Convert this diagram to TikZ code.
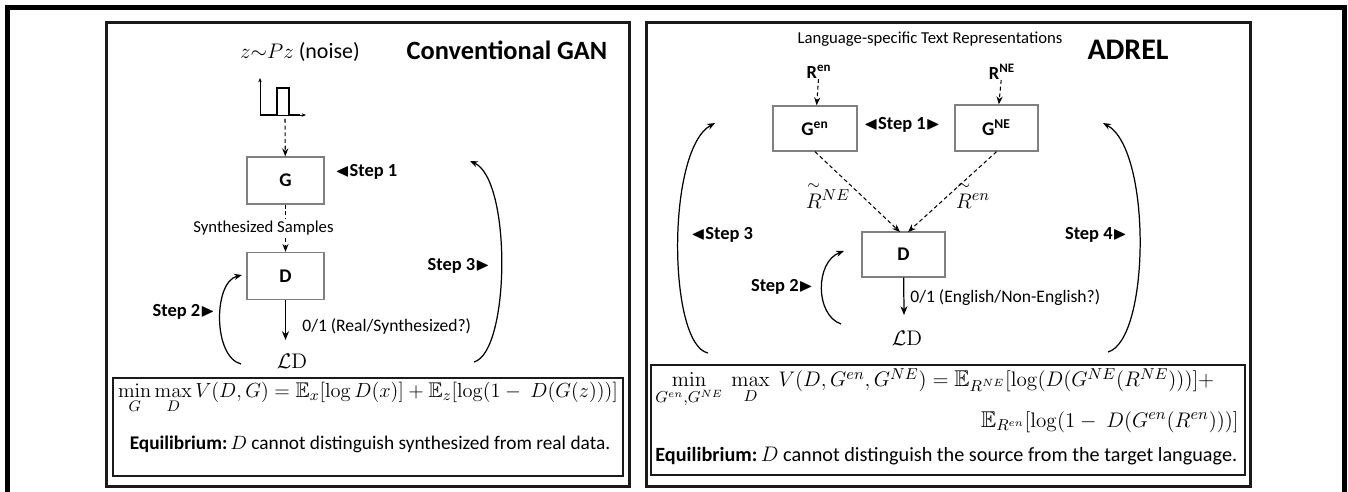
\documentclass[tikz,border=0pt]{standalone}
\usepackage[no-math]{fontspec}
\usepackage{amsmath}
\usepackage{amssymb}
\usepackage{graphicx}
\setmainfont{Carlito}
\usetikzlibrary{arrows.meta}
\definecolor{boxline}{HTML}{808080}
\definecolor{frameline}{HTML}{1A1A1A}
\tikzset{
  panel/.style={draw=frameline, line width=1.7pt},
  eqbox/.style={draw=frameline, line width=1.1pt},
  netbox/.style={draw=boxline, line width=0.8pt, minimum width=1.54cm, minimum height=0.94cm,
                 inner sep=0pt, font=\bfseries\fontsize{11}{13}\selectfont},
  steplabel/.style={font=\bfseries\fontsize{10.5}{12}\selectfont, inner sep=0pt},
  plainlabel/.style={font=\fontsize{10}{12}\selectfont, inner sep=0pt},
  paneltitle/.style={font=\bfseries\fontsize{15}{18}\selectfont, inner sep=0pt},
  mathlabel/.style={font=\fontsize{12.5}{15}\selectfont, inner sep=0pt},
  flow/.style={-{Stealth[length=4.5pt, width=3.5pt]}, line width=0.6pt, dash pattern=on 2.2pt off 1.6pt},
  decide/.style={-{Stealth[length=5pt, width=4pt]}, line width=0.7pt},
  stepcurve/.style={-{Stealth[length=4.5pt, width=3.5pt]}, line width=0.7pt},
}

\begin{document}
\begin{tikzpicture}[x=0.02cm, y=-0.02cm]
  \useasboundingbox (0,0) rectangle (1348,492);
  \draw[line width=2.6pt] (7.5,492) -- (7.5,7.5) -- (1344.5,7.5) -- (1344.5,492);
  \draw[panel] (106.5,22.5) rectangle (629.5,486.5);
  \draw[panel] (646.5,22.5) rectangle (1250,486.5);

  % conventional GAN
  \node[mathlabel] (noise) at (300,52) {$z{\sim}Pz$ (noise)};
  \node[paneltitle] (gantitle) at (507,50) {Conventional GAN};
  \draw[-{Stealth[length=2.5pt, width=2pt]}, line width=0.5pt] (260,115) -- (260,78);
  \draw[-{Stealth[length=2.5pt, width=2pt]}, line width=0.5pt] (260,115) -- (306,115);
  \draw[line width=0.9pt] (260,115) -- (277,115) -- (277,88) -- (289,88) -- (289,115) -- (300,115);
  \coordinate (pulse) at (285,119);
  \node[netbox] (G) at (285.5,180.5) {G};
  \node[steplabel, anchor=west] (ganstep1) at (335,172) {$\blacktriangleleft$Step 1};
  \node[netbox] (D) at (285.5,276) {D};
  \draw[flow] (pulse) -- (G);
  \draw[flow] (G) -- (D) node[midway, plainlabel, font=\fontsize{9.5}{11}\selectfont, fill=white, inner sep=1pt, xshift=-0.44cm] (synth) {Synthesized Samples};
  \coordinate (ganloss) at (285.5,340);
  \draw[decide] (D) -- (ganloss);
  \node[mathlabel, font=\fontsize{13}{15}\selectfont] (ganlossD) at (292,361) {$\mathcal{L}\mathrm{D}$};
  \node[plainlabel, anchor=west] (ganverdict) at (302,326) {0/1 (Real/Synthesized?)};
  \node[steplabel, anchor=east] (ganstep2) at (215,312) {Step 2$\blacktriangleright$};
  \draw[stepcurve] (241,364) .. controls (213,357) and (213,282) .. (242,275);
  \node[steplabel, anchor=east] (ganstep3) at (490,266) {Step 3$\blacktriangleright$};
  \draw[stepcurve] (474,362) .. controls (510,352) and (512,180) .. (470,161);
  \draw[eqbox] (113,378) rectangle (623,476);
  \node[mathlabel] (ganeq) at (368,398)
    {\resizebox{10cm}{!}{$\min\limits_{G}\max\limits_{D} V(D,G) = \mathbb{E}_x[\log D(x)] + \mathbb{E}_z[\log(1-\ D(G(z)))]$}};
  \node[plainlabel, font=\fontsize{11}{13}\selectfont] (ganeqil) at (370,444)
    {\textbf{Equilibrium:}$\,D$ cannot distinguish synthesized from real data.};

  % ADREL
  \node[plainlabel, font=\fontsize{9.5}{11}\selectfont] (reptitle) at (930,39) {Language-specific Text Representations};
  \node[paneltitle, font=\bfseries\fontsize{17}{20}\selectfont] (adreltitle) at (1128,50) {ADREL};
  \node[steplabel] (Ren) at (819,72) {R\textsuperscript{en}};
  \node[steplabel] (RNE) at (1002,72) {R\textsuperscript{NE}};
  \node[netbox, minimum width=1.68cm, minimum height=0.9cm] (Gen) at (815,128.5) {G\textsuperscript{en}};
  \node[netbox, minimum width=1.66cm, minimum height=0.92cm] (GNE) at (996.5,128) {G\textsuperscript{NE}};
  \node[steplabel] (adrelstep1) at (902,125) {$\blacktriangleleft$Step 1$\blacktriangleright$};
  \node[netbox, minimum width=1.66cm, minimum height=0.9cm] (Dr) at (903.5,254.5) {D};
  \draw[flow] (Ren) -- (Gen);
  \draw[flow] (RNE) -- (GNE);
  \coordinate (Dinl) at (900,232);
  \coordinate (Dinr) at (908,232);
  \draw[flow] (Gen.south) -- (Dinl);
  \draw[flow] (GNE.south) -- (Dinr);
  \node[mathlabel] (RtNE) at (828,195) {$\overset{\sim}{R}{}^{NE}$};
  \node[mathlabel] (Rten) at (973,195) {$\overset{\sim}{R}{}^{en}$};
  \coordinate (adrelloss) at (904,315);
  \draw[decide] (Dr) -- (adrelloss);
  \node[mathlabel, font=\fontsize{13}{15}\selectfont] (adrellossD) at (907,338) {$\mathcal{L}\mathrm{D}$};
  \node[plainlabel, anchor=west] (adrelverdict) at (910,298) {0/1 (English/Non-English?)};
  \node[steplabel] (adrelstep2) at (782,287) {Step 2$\blacktriangleright$};
  \draw[stepcurve] (841,324) .. controls (815,315) and (815,262) .. (844,251);
  \node[steplabel] (adrelstep3) at (722,235) {$\blacktriangleleft$Step 3};
  \draw[stepcurve] (708,353) .. controls (668,345) and (666,150) .. (715,123);
  \node[steplabel] (adrelstep4) at (1096,235) {Step 4$\blacktriangleright$};
  \draw[stepcurve] (1108,352) .. controls (1150,340) and (1152,150) .. (1103,123);
  \draw[eqbox] (651,365) rectangle (1245,475);
  \node[mathlabel, font=\fontsize{13}{15}\selectfont, anchor=west] (adreleq) at (655,388)
    {$\min\limits_{G^{en},G^{NE}}\ \max\limits_{D}\ V(D,G^{en},G^{NE}) = \mathbb{E}_{R^{NE}}[\log(D(G^{NE}(R^{NE})))] +$};
  \node[mathlabel, font=\fontsize{13}{15}\selectfont, anchor=east] (adreleqtail) at (1239,422)
    {$\mathbb{E}_{R^{en}}[\log(1-\ D(G^{en}(R^{en})))]$};
  \node[plainlabel, font=\fontsize{11.5}{13}\selectfont, anchor=west] (adreleqil) at (655,456)
    {\textbf{Equilibrium:}$\,D$ cannot distinguish the source from the target language.};
\end{tikzpicture}
\end{document}
